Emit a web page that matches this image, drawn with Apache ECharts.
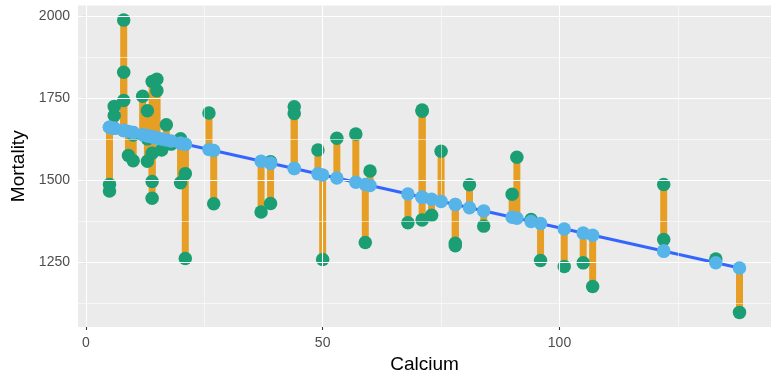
<!DOCTYPE html>
<html><head><meta charset="utf-8">
<script src="https://cdn.jsdelivr.net/npm/echarts@6/dist/echarts.min.js"></script>
<style>html,body{margin:0;padding:0;background:#fff}#c{width:772px;height:373px}</style>
</head><body><div id="c"></div>
<script>
const calcium = [105,17,5,14,18,10,15,78,10,84,73,12,21,78,96,20,39,39,122,21,44,94,8,9,91,138,16,37,15,8,26,44,14,59,133,27,6,107,5,90,6,101,13,14,49,8,14,68,50,75,71,13,57,71,13,20,60,53,122,81,71];
const mortality = [1247,1668,1466,1800,1609,1558,1807,1299,1637,1359,1392,1755,1519,1307,1254,1491,1555,1428,1318,1260,1723,1379,1742,1574,1569,1096,1591,1402,1772,1828,1704,1702,1581,1309,1259,1427,1724,1175,1486,1456,1696,1236,1711,1444,1591,1987,1495,1369,1257,1587,1713,1557,1640,1709,1625,1625,1527,1627,1486,1485,1378];
const fitted = [1337.7,1621.5,1660.2,1631.2,1618.3,1644.1,1627.9,1424.7,1644.1,1405.4,1440.8,1637.6,1608.6,1424.7,1366.7,1611.8,1550.5,1550.5,1282.8,1608.6,1534.4,1373.1,1650.5,1647.3,1382.8,1231.1,1624.7,1557.0,1627.9,1650.5,1592.5,1534.4,1631.2,1486.0,1247.3,1589.3,1657.0,1331.2,1660.2,1386.0,1657.0,1350.5,1634.4,1631.2,1518.3,1650.5,1631.2,1457.0,1515.0,1434.4,1447.3,1634.4,1492.5,1447.3,1634.4,1611.8,1482.8,1505.4,1282.8,1415.0,1447.3];
const lineX = [5, 138];
const lineY = [1660.2, 1231.1];
const xTicks = [0, 50, 100];
const xMinor = [25, 75, 125];
const yTicks = [1250, 1500, 1750, 2000];
const yMinor = [1125, 1375, 1625, 1875];

const chart = echarts.init(document.getElementById('c'), null, {renderer: 'canvas'});
const segData = calcium.map((c, i) => [c, fitted[i], mortality[i]]);
const obsData = calcium.map((c, i) => [c, mortality[i]]);
const fitData = calcium.map((c, i) => [c, fitted[i]]);
const gridMarks = [].concat(
  xMinor.map(v => ({xAxis: v, lineStyle: {width: 0.55}})),
  yMinor.map(v => ({yAxis: v, lineStyle: {width: 0.55}})),
  xTicks.map(v => ({xAxis: v, lineStyle: {width: 1.1}})),
  yTicks.map(v => ({yAxis: v, lineStyle: {width: 1.1}}))
);
const fmt = v => String(v);
chart.setOption({
  animation: false,
  grid: {left: 78, right: 1, top: 5.5, bottom: 46, show: true, backgroundColor: '#EBEBEB', borderWidth: 0,
    containLabel: false, outerBoundsMode: 'none'},
  xAxis: {
    type: 'value', min: -1.65, max: 144.65,
    name: 'Calcium', nameLocation: 'middle', nameGap: 28,
    nameTextStyle: {color: '#000', fontSize: 19, fontFamily: 'Liberation Sans'},
    axisLine: {show: false},
    axisTick: {show: true, length: 3, lineStyle: {color: '#333', width: 1.1}, customValues: xTicks},
    axisLabel: {color: '#4D4D4D', fontSize: 14, fontFamily: 'Liberation Sans', margin: 9, formatter: fmt, customValues: xTicks},
    splitLine: {show: false}
  },
  yAxis: {
    type: 'value', min: 1051.45, max: 2031.55,
    name: 'Mortality', nameLocation: 'middle', nameGap: 50, nameRotate: 90,
    nameTextStyle: {color: '#000', fontSize: 19, fontFamily: 'Liberation Sans'},
    axisLine: {show: false},
    axisTick: {show: true, length: 3, lineStyle: {color: '#333', width: 1.1}, customValues: yTicks},
    axisLabel: {color: '#4D4D4D', fontSize: 14, fontFamily: 'Liberation Sans', margin: 8, formatter: fmt, customValues: yTicks},
    splitLine: {show: false}
  },
  series: [
    {
      type: 'line', data: [], silent: true, z: 1,
      markLine: {silent: true, symbol: 'none', label: {show: false}, animation: false,
        lineStyle: {color: '#FFFFFF', type: 'solid'}, data: gridMarks}
    },
    {
      type: 'custom', data: segData, silent: true, z: 2,
      renderItem: function (params, api) {
        const p1 = api.coord([api.value(0), api.value(1)]);
        const p2 = api.coord([api.value(0), api.value(2)]);
        return {type: 'line', shape: {x1: p1[0], y1: p1[1], x2: p2[0], y2: p2[1]},
          style: {stroke: '#E69F24', lineWidth: 7}};
      },
      encode: {x: 0, y: [1, 2]}
    },
    {
      type: 'line', data: lineX.map((x, i) => [x, lineY[i]]), showSymbol: false, silent: true, z: 3,
      lineStyle: {color: '#3366FF', width: 3}
    },
    {
      type: 'scatter', data: obsData, symbolSize: 13.5, silent: true, z: 4,
      itemStyle: {color: '#1B9E73', opacity: 1}
    },
    {
      type: 'scatter', data: fitData, symbolSize: 13.5, silent: true, z: 5,
      itemStyle: {color: '#56B4E9', opacity: 1}
    }
  ]
});
</script></body></html>
